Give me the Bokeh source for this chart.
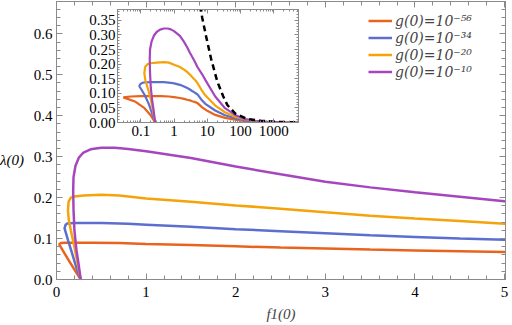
from bokeh.plotting import figure
from bokeh.models import (LinearAxis, LogAxis, FixedTicker, SingleIntervalTicker, Range1d,
                          Legend, LegendItem, Div, GridBox, PrintfTickFormatter,
                          CustomJSTickFormatter)
from bokeh.embed import file_html
from bokeh.resources import INLINE

# ---------------- data ----------------
SERIES_LABELS = ["g(0)=10\u207b\u2075\u2076", "g(0)=10\u207b\u00b3\u2074",
                 "g(0)=10\u207b\u00b2\u2070", "g(0)=10\u207b\u00b9\u2070"]
COLORS = ["#E8641E", "#5C6FCF", "#F5A30A", "#A646BE"]

# g(0)=1e-56
f_56 = [0.27, 0.20, 0.13, 0.07, 0.03, 0.05, 0.10, 0.20, 0.40, 0.70, 1.0, 1.5, 2.0, 2.5, 3.0, 3.5, 4.0, 4.5, 5.0,
        7.0, 10.0, 17.3, 34.0, 68.0, 136.0, 300.0, 1000.0, 5500.0]
l_56 = [0.0, 0.024, 0.049, 0.071, 0.086, 0.089, 0.090, 0.090, 0.090, 0.089, 0.087, 0.084, 0.081, 0.078, 0.076, 0.073, 0.071, 0.069, 0.067,
        0.052, 0.040, 0.026, 0.016, 0.010, 0.005, 0.002, 0.0006, 0.0]

# g(0)=1e-34
f_34 = [0.27, 0.22, 0.175, 0.13, 0.09, 0.10, 0.12, 0.20, 0.50, 0.80, 1.0, 1.5, 2.0, 2.5, 3.0, 3.5, 4.0, 4.5, 5.0,
        7.0, 8.7, 17.3, 34.0, 68.0, 136.0, 270.0, 600.0, 2000.0, 5500.0]
l_34 = [0.0, 0.030, 0.063, 0.095, 0.125, 0.133, 0.137, 0.138, 0.138, 0.136, 0.134, 0.129, 0.123, 0.118, 0.113, 0.108, 0.104, 0.100, 0.097,
        0.075, 0.064, 0.041, 0.025, 0.015, 0.008, 0.004, 0.0015, 0.0003, 0.0]

# g(0)=1e-20
f_20 = [0.27, 0.23, 0.193, 0.16, 0.138, 0.128, 0.135, 0.16, 0.20, 0.30, 0.50, 0.70, 1.0, 1.5, 2.0, 2.5, 3.0, 3.5, 4.0, 4.5, 5.0,
        7.0, 8.7, 17.3, 34.0, 68.0, 136.0, 270.0, 600.0, 2000.0, 5500.0]
l_20 = [0.0, 0.045, 0.087, 0.120, 0.144, 0.168, 0.190, 0.200, 0.203, 0.205, 0.207, 0.205, 0.198, 0.190, 0.181, 0.173, 0.164, 0.156, 0.149, 0.143, 0.136,
        0.108, 0.093, 0.058, 0.035, 0.020, 0.011, 0.005, 0.002, 0.0004, 0.0]

# g(0)=1e-10
f_10 = [0.27, 0.245, 0.223, 0.20, 0.19, 0.186, 0.19, 0.212, 0.25, 0.30, 0.38, 0.50, 0.65, 0.80, 1.0, 1.5, 2.0, 2.5, 3.0, 3.5, 4.0, 4.5, 5.0,
        7.0, 8.7, 17.3, 34.0, 68.0, 136.0, 270.0, 540.0, 2000.0, 5500.0]
l_10 = [0.0, 0.040, 0.071, 0.120, 0.170, 0.217, 0.250, 0.278, 0.298, 0.310, 0.318, 0.322, 0.322, 0.319, 0.313, 0.297, 0.276, 0.257, 0.239, 0.225, 0.213, 0.202, 0.191,
        0.165, 0.146, 0.089, 0.049, 0.026, 0.012, 0.006, 0.003, 0.0006, 0.0]

# dashed reference curve (inset)
f_dash = [6.2, 7.0, 9.2, 13.0, 20.0, 30.0, 40.0, 70.0, 160.0, 400.0, 1500.0, 5500.0]
l_dash = [0.40, 0.36, 0.295, 0.218, 0.14, 0.09, 0.06, 0.03, 0.012, 0.006, 0.002, 0.0005]

X_TICK_STEP = 1
Y_TICK_STEP = 0.1
INSET_X_TICKS = [0.1, 1, 10, 100, 1000]
INSET_X_LABELS = ["0.1", "1", "10", "100", "1000"]
INSET_Y_TICK_STEP = 0.05
X_LABEL = "f1(0)"
Y_LABEL = "\u03bb(0)"

F_LIST = [f_56, f_34, f_20, f_10]
L_LIST = [l_56, l_34, l_20, l_10]

FONT = "Liberation Serif"
LEGEND_FONT = "DejaVu Serif"
AX_COLOR = "#8a8a8a"

# ---------------- main figure ----------------
p = figure(width=512, height=325, x_range=Range1d(0, 5.01), y_range=Range1d(0, 0.679),
           output_backend="svg", toolbar_location=None,
           min_border_left=56, min_border_right=7, min_border_top=1, min_border_bottom=46)
p.grid.visible = False
p.outline_line_color = AX_COLOR
p.background_fill_color = "white"


def style_axis(ax, major_in=6, minor_in=4):
    ax.axis_line_color = AX_COLOR
    ax.major_tick_line_color = AX_COLOR
    ax.minor_tick_line_color = AX_COLOR
    ax.major_tick_in = major_in
    ax.major_tick_out = 0
    ax.minor_tick_in = minor_in
    ax.minor_tick_out = 0
    ax.major_label_text_font = FONT
    ax.major_label_text_color = "black"
    ax.major_label_text_font_size = "15px"


xt = SingleIntervalTicker(interval=X_TICK_STEP, num_minor_ticks=5)
yt = SingleIntervalTicker(interval=Y_TICK_STEP, num_minor_ticks=5)
p.xaxis.ticker = xt
p.yaxis.ticker = yt
p.xaxis.formatter = PrintfTickFormatter(format="%d")
p.yaxis.formatter = PrintfTickFormatter(format="%.1f")
for ax in p.xaxis + p.yaxis:
    style_axis(ax)
p.xaxis.major_label_standoff = 7
p.yaxis.major_label_standoff = 4
p.xaxis.axis_label = X_LABEL
p.xaxis.axis_label_text_font = FONT
p.xaxis.axis_label_text_font_style = "italic"
p.xaxis.axis_label_text_font_size = "15px"
p.xaxis.axis_label_standoff = 6

empty = CustomJSTickFormatter(code="return ''")
top_ax = LinearAxis(ticker=xt, formatter=empty)
right_ax = LinearAxis(ticker=yt, formatter=empty)
for ax in (top_ax, right_ax):
    style_axis(ax)
    ax.major_label_text_font_size = "0px"
    ax.major_label_standoff = 0
p.add_layout(top_ax, "above")
p.add_layout(right_ax, "right")

items = []
for f, l, c, lab in zip(F_LIST, L_LIST, COLORS, SERIES_LABELS):
    r = p.line(f, l, line_color=c, line_width=2.5)
    items.append(LegendItem(label=lab, renderers=[r]))

legend = Legend(items=items, location=(312, 199), orientation="vertical",
                label_text_font=LEGEND_FONT, label_text_font_style="italic",
                label_text_font_size="14px", glyph_width=24, glyph_height=17,
                label_height=17, label_standoff=3, spacing=0, padding=0, margin=0,
                border_line_alpha=0, background_fill_alpha=0)
p.add_layout(legend, "center")

ylab = Div(text=Y_LABEL, width=35, height=20, margin=0,
           styles={"font-family": "'Liberation Serif', serif", "font-style": "italic",
                   "font-size": "15px", "line-height": "20px", "white-space": "nowrap",
                   "color": "black"})

# ---------------- inset ----------------
ins = figure(width=223, height=139, x_axis_type="log", x_range=Range1d(0.02, 5500),
             y_range=Range1d(0, 0.387), output_backend="svg", toolbar_location=None,
             min_border_left=38, min_border_right=4, min_border_top=4, min_border_bottom=22)
ins.grid.visible = False
ins.outline_line_color = AX_COLOR
ins.background_fill_color = "white"
ins.border_fill_alpha = 0

minor_log = [k * 10.0 ** d for d in range(-2, 4) for k in range(2, 10)]
ixt = FixedTicker(ticks=INSET_X_TICKS, minor_ticks=minor_log)
iyt = SingleIntervalTicker(interval=INSET_Y_TICK_STEP, num_minor_ticks=5)
ins.xaxis.ticker = ixt
ins.xaxis.formatter = CustomJSTickFormatter(
    args=dict(t=INSET_X_TICKS, l=INSET_X_LABELS),
    code="const i = t.findIndex(v => Math.abs(v - tick) <= 1e-6 * v); return i >= 0 ? l[i] : '';")
ins.yaxis.ticker = iyt
ins.yaxis.formatter = PrintfTickFormatter(format="%.2f")
for ax in ins.xaxis + ins.yaxis:
    style_axis(ax, major_in=4, minor_in=2)
ins.xaxis.major_label_standoff = 3
ins.yaxis.major_label_standoff = 2

itop = LogAxis(ticker=ixt, formatter=empty)
iright = LinearAxis(ticker=iyt, formatter=empty)
for ax in (itop, iright):
    style_axis(ax, major_in=4, minor_in=2)
    ax.major_label_text_font_size = "0px"
    ax.major_label_standoff = 0
ins.add_layout(itop, "above")
ins.add_layout(iright, "right")

for f, l, c in zip(F_LIST, L_LIST, COLORS):
    ins.line(f, l, line_color=c, line_width=2.2)
ins.line(f_dash, l_dash, line_color="black", line_width=2.5, line_dash="6 4")

layout = GridBox(children=[(p, 0, 0, 5, 4), (ins, 1, 2, 1, 1), (ylab, 3, 0, 1, 1)],
                 rows=["5px", "139px", "6px", "20px", "155px"],
                 cols=["35px", "44px", "223px", "210px"])

open("out.html", "w").write(file_html(layout, INLINE))
